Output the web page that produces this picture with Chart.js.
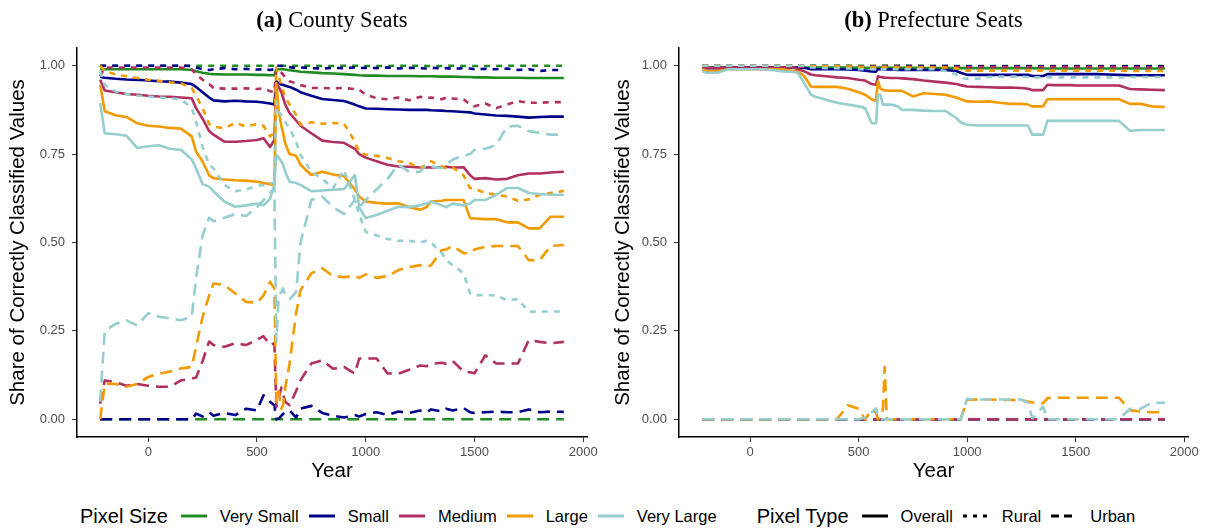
<!DOCTYPE html>
<html>
<head>
<meta charset="utf-8">
<script src="https://cdn.jsdelivr.net/npm/chart.js@4.4.1/dist/chart.umd.min.js"></script>
<style>
  body { margin: 0; background: #fff; width: 1210px; height: 532px; position: relative; overflow: hidden;
         font-family: "Liberation Sans", Arial, sans-serif; }
  canvas { position: absolute; top: 0; }
  .panel-title { position: absolute; top: 9px; line-height: 22px; font-size: 22.5px; color: #000; text-align: center;
                 font-family: "Liberation Serif", "Times New Roman", serif; white-space: nowrap; }
  #legend { position: absolute; left: 80px; top: 503px; width: 1130px; height: 26px; display: flex;
            justify-content: flex-start; align-items: center; color: #000; }
  .lg-title { font-size: 20px; margin-right: 13px; }
  .lg-item { display: flex; align-items: center; margin-right: 10px; font-size: 16.5px; }
  .lg-item svg { margin-right: 13px; }
  .lg-gap { width: 30px; }
</style>
</head>
<body>
<canvas id="chartA" width="605" height="490" style="left:0"></canvas>
<canvas id="chartB" width="605" height="490" style="left:605px"></canvas>
<div class="panel-title" style="left:77px;width:510px"><b>(a)</b> County Seats</div>
<div class="panel-title" style="left:679px;width:509px"><b>(b)</b> Prefecture Seats</div>
<div id="legend"></div>

<script>
// shared year grid (221 BC .. 1911)
const years = [-221, -200, -150, -100, -50, 0, 50, 100, 150, 200,
  220, 250, 280, 300, 350, 400, 450, 500, 530, 560,
  580, 589, 600, 612, 620, 630, 650, 680, 700, 750,
  800, 850, 900, 950, 970, 1000, 1050, 1100, 1150, 1200,
  1250, 1280, 1300, 1350, 1370, 1400, 1450, 1480, 1500, 1550,
  1600, 1650, 1700, 1750, 1800, 1850, 1911];

const sizeNames = ['Very Small', 'Small', 'Medium', 'Large', 'Very Large'];
const typeNames = ['Overall', 'Rural', 'Urban'];
const sizeColors = ['#228B22', '#00008B', '#B03060', '#F29A00', '#96CDCD'];
const typeDash = [[], [6, 6], [12, 7]];
const xTicks = [0, 500, 1000, 1500, 2000];
const yTicks = [0, 0.25, 0.5, 0.75, 1];

// ---- (a) County Seats ----
const aVerySmallOverall = [.99,.99,.99,.99,.99,.99,.99,.99,.99,.988,
  .984,.98,.977,.976,.975,.975,.975,.974,.974,.973,
  .973,.99,.99,.99,.99,.989,.987,.985,.983,.981,
  .979,.978,.976,.974,.973,.972,.972,.971,.971,.971,
  .970,.970,.970,.969,.969,.969,.968,.968,.967,.967,
  .966,.966,.966,.965,.965,.965,.965];
const aVerySmallRural = [1,1,1,1,1,1,1,1,1,1,
  1,1,1,1,1,1,1,1,1,1,
  1,1,1,1,1,1,1,1,1,1,
  .999,.999,1,1,1,.999,.999,.999,1,1,
  1,.999,.999,.999,1,1,.999,.999,.999,.999,
  .999,1,1,1,1,1,1];
const aVerySmallUrban = [0,0,0,0,0,0,0,0,0,0,
  0,0,0,0,0,0,0,0,0,0,
  0,0,0,0,0,0,0,0,0,0,
  0,0,0,0,0,0,0,0,0,0,
  0,0,0,0,0,0,0,0,0,0,
  0,0,0,0,0,0,0];
const aSmallOverall = [.968,.966,.963,.961,.96,.958,.956,.955,.952,.948,
  .94,.925,.91,.902,.899,.901,.899,.898,.896,.893,
  .89,.956,.95,.947,.946,.943,.94,.932,.925,.915,
  .906,.903,.9,.89,.885,.879,.878,.877,.876,.875,
  .875,.875,.874,.873,.872,.871,.869,.868,.865,.862,
  .859,.858,.856,.853,.855,.856,.856];
const aSmallRural = [1,1,1,1,1,1,1,1,1,.999,
  .995,.99,.988,.99,.993,.99,.991,.989,.99,.988,
  .99,1,1,.999,.999,.998,.996,.993,.995,.993,
  .992,.994,.993,.995,.993,.994,.993,.995,.992,.994,
  .993,.992,.994,.992,.993,.991,.993,.992,.99,.991,
  .99,.992,.988,.99,.985,.988,.988];
const aSmallUrban = [0,0,0,0,0,0,0,0,0,0,
  .016,.008,.02,.01,.018,.012,.03,.025,.068,.05,
  .04,0,.002,.01,.015,.02,.025,.005,.03,.038,
  .018,.01,.005,.012,.008,.015,.02,.012,.022,.018,
  .025,.02,.028,.022,.03,.025,.032,.02,.018,.02,
  .022,.02,.02,.028,.02,.022,.021];
const aMediumOverall = [.96,.93,.925,.92,.918,.915,.913,.912,.91,.908,
  .88,.85,.815,.805,.785,.785,.787,.79,.795,.77,
  .79,.951,.94,.925,.91,.89,.866,.845,.83,.809,
  .788,.784,.782,.765,.75,.74,.73,.72,.715,.714,
  .712,.713,.712,.713,.714,.712,.713,.69,.68,.682,
  .678,.68,.69,.695,.695,.698,.70];
const aMediumRural = [.97,.995,.995,.995,.995,.995,.995,.995,.995,.99,
  .975,.96,.948,.937,.935,.935,.936,.934,.936,.928,
  .925,.99,.985,.98,.975,.968,.956,.95,.945,.937,
  .937,.936,.937,.934,.932,.918,.908,.905,.91,.902,
  .912,.908,.91,.905,.91,.907,.905,.89,.885,.893,
  .88,.89,.90,.895,.895,.897,.897];
const aMediumUrban = [.044,.11,.105,.095,.10,.095,.092,.092,.11,.115,
  .118,.165,.22,.21,.205,.215,.21,.225,.235,.21,
  .215,.035,.06,.09,.07,.05,.04,.08,.11,.158,
  .167,.143,.148,.129,.172,.172,.172,.13,.129,.14,
  .152,.15,.157,.16,.157,.165,.135,.133,.13,.181,
  .158,.158,.158,.224,.219,.215,.219];
const aLargeOverall = [.946,.871,.86,.855,.837,.83,.828,.824,.822,.80,
  .757,.729,.69,.682,.678,.676,.675,.672,.668,.665,
  .663,.951,.87,.83,.81,.78,.75,.745,.72,.691,
  .70,.692,.688,.65,.63,.616,.612,.61,.611,.60,
  .593,.60,.616,.618,.62,.62,.62,.569,.568,.566,
  .566,.557,.557,.54,.54,.573,.573];
const aLargeRural = [1,.985,.975,.97,.965,.96,.957,.953,.95,.937,
  .915,.88,.835,.828,.823,.838,.828,.835,.83,.80,
  .81,.995,.97,.945,.93,.91,.89,.861,.833,.84,
  .836,.838,.836,.786,.753,.749,.745,.739,.73,.725,
  .71,.72,.73,.715,.71,.712,.69,.654,.652,.64,
  .635,.63,.618,.622,.635,.64,.646];
const aLargeUrban = [0,.101,.10,.092,.10,.12,.129,.135,.144,.148,
  .205,.29,.35,.384,.38,.356,.332,.33,.35,.389,
  .37,.05,.08,.03,.04,.09,.158,.30,.365,.413,
  .427,.405,.402,.405,.40,.41,.40,.405,.422,.43,
  .436,.432,.435,.479,.48,.49,.47,.469,.48,.488,
  .49,.49,.49,.45,.45,.49,.493];
const aVeryLargeOverall = [.894,.809,.806,.802,.767,.772,.775,.765,.762,.735,
  .71,.665,.658,.645,.616,.601,.605,.61,.605,.623,
  .663,.748,.74,.73,.72,.70,.672,.668,.663,.645,
  .647,.649,.651,.691,.60,.569,.578,.59,.601,.60,
  .605,.61,.616,.605,.60,.61,.605,.61,.62,.62,
  .635,.654,.654,.64,.637,.635,.635];
const aVeryLargeRural = [.984,.946,.927,.92,.915,.913,.91,.908,.905,.88,
  .842,.77,.72,.71,.663,.645,.65,.66,.663,.666,
  .67,.90,.87,.86,.85,.84,.823,.785,.748,.70,
  .68,.654,.705,.62,.58,.53,.52,.51,.505,.505,
  .50,.505,.50,.47,.45,.436,.413,.356,.35,.352,
  .35,.337,.34,.304,.305,.305,.305];
const aVeryLargeUrban = [.05,.25,.27,.28,.265,.30,.29,.285,.28,.29,
  .40,.52,.57,.56,.57,.58,.575,.60,.62,.64,
  .655,.22,.35,.36,.37,.35,.34,.36,.50,.62,
  .63,.60,.58,.62,.60,.62,.65,.68,.72,.70,
  .70,.72,.715,.71,.72,.735,.745,.75,.762,.765,
  .776,.828,.83,.815,.81,.805,.805];

// ---- (b) Prefecture Seats ----
const bVerySmallOverall = [.995,.995,.995,.995,.995,.995,.995,.995,.995,.995,
  .995,.995,.995,.995,.995,.995,.995,.994,.994,.993,
  .993,.995,.995,.995,.995,.995,.994,.994,.994,.994,
  .993,.993,.993,.993,.993,.993,.993,.993,.993,.993,
  .993,.993,.993,.992,.992,.992,.992,.992,.992,.992,
  .992,.992,.992,.992,.992,.992,.992];
const bVerySmallRural = [1,1,1,1,1,1,1,1,1,1,
  1,1,1,1,1,1,1,1,1,1,
  1,1,1,1,1,1,1,1,1,1,
  .999,.999,.999,.999,.999,.999,.999,.999,.999,.999,
  .999,.999,.999,.999,.999,.999,.999,.999,.999,.999,
  .999,.999,.999,.999,.999,.999,.999];
const bVerySmallUrban = [0,0,0,0,0,0,0,0,0,0,
  0,0,0,0,0,0,0,0,0,0,
  0,0,0,0,0,0,0,0,0,0,
  0,0,0,0,0,0,0,0,0,0,
  0,0,0,0,0,0,0,0,0,0,
  0,0,0,0,0,0,0];
const bSmallOverall = [.995,.993,.993,.995,.995,.995,.995,.995,.995,.995,
  .995,.994,.99,.99,.99,.99,.989,.988,.986,.984,
  .983,.99,.99,.99,.989,.989,.989,.988,.988,.988,
  .988,.988,.988,.985,.98,.974,.974,.974,.974,.974,
  .974,.974,.971,.971,.976,.976,.976,.976,.976,.976,
  .976,.975,.974,.973,.973,.973,.973];
const bSmallRural = [1,1,1,1,1,1,1,1,1,1,
  1,1,.999,.999,.999,.999,.999,.998,.998,.998,
  .998,1,1,.999,.999,.999,.999,.999,.999,.999,
  .999,.999,.999,.998,.998,.998,.998,.998,.998,.998,
  .998,.998,.998,.998,.998,.998,.998,.998,.998,.998,
  .998,.998,.998,.998,.998,.998,.998];
const bSmallUrban = [0,0,0,0,0,0,0,0,0,0,
  0,0,0,0,0,0,0,0,0,0,
  0,0,0,0,0,0,0,0,0,0,
  0,0,0,0,0,0,0,0,0,0,
  0,0,0,0,0,0,0,0,0,0,
  0,0,0,0,0,0,0];
const bMediumOverall = [.995,.993,.993,.995,.995,.995,.995,.995,.995,.995,
  .99,.984,.975,.973,.97,.967,.965,.96,.958,.948,
  .946,.97,.968,.967,.966,.966,.965,.965,.964,.962,
  .958,.955,.952,.948,.945,.941,.94,.939,.938,.938,
  .937,.935,.931,.931,.946,.945,.945,.945,.944,.944,
  .944,.944,.944,.934,.933,.932,.931];
const bMediumRural = [.997,.997,.997,.997,.997,.997,.997,.997,.997,.997,
  .997,.997,.997,.997,.997,.997,.997,.997,.997,.997,
  .997,.997,.997,.997,.997,.997,.997,.997,.997,.997,
  .996,.996,.996,.996,.996,.996,.996,.996,.996,.996,
  .996,.996,.996,.996,.996,.996,.996,.996,.996,.996,
  .996,.996,.996,.995,.995,.995,.995];
const bMediumUrban = [0,0,0,0,0,0,0,0,0,0,
  0,0,0,0,0,0,0,0,0,0,
  0,0,0,0,0,0,0,0,0,0,
  0,0,0,0,0,0,0,0,0,0,
  0,0,0,0,0,0,0,0,0,0,
  0,0,0,0,0,0,0];
const bLargeOverall = [.99,.985,.985,.99,.99,.99,.99,.99,.99,.985,
  .984,.97,.941,.94,.94,.94,.935,.925,.918,.905,
  .90,.956,.935,.932,.93,.93,.929,.93,.929,.913,
  .922,.92,.918,.91,.905,.899,.898,.899,.895,.892,
  .892,.89,.885,.885,.905,.905,.905,.905,.905,.905,
  .905,.905,.905,.892,.892,.885,.883];
const bLargeRural = [1,1,1,1,1,1,1,1,1,1,
  1,1,.998,.998,.998,.998,.998,.997,.997,.996,
  .996,1,.998,.997,.997,.996,.996,.996,.995,.995,
  .995,.995,.995,.993,.99,.986,.986,.986,.986,.986,
  .986,.986,.986,.986,.986,.986,.986,.986,.986,.986,
  .986,.986,.986,.985,.985,.985,.985];
const bLargeUrban = [0,0,0,0,0,0,0,0,0,0,
  0,0,0,0,0,0,.04,.03,0,.026,
  .02,0,.005,.03,.148,0,0,0,0,0,
  0,0,0,0,0,.055,.056,.056,.055,.055,
  .054,.05,.048,.045,.06,.061,.061,.061,.061,.061,
  .061,.061,.061,.026,.022,.02,.02];
const bVeryLargeOverall = [.984,.98,.98,.99,.99,.99,.99,.988,.984,.982,
  .98,.95,.918,.912,.904,.895,.89,.885,.88,.837,
  .837,.918,.918,.89,.89,.89,.89,.885,.875,.875,
  .873,.872,.872,.852,.84,.833,.831,.831,.831,.831,
  .831,.831,.805,.805,.844,.844,.844,.844,.844,.844,
  .844,.844,.844,.816,.818,.818,.818];
const bVeryLargeRural = [1,1,1,1,1,1,1,1,1,1,
  1,1,.995,.995,.993,.993,.992,.99,.99,.99,
  .99,.995,.99,.99,.99,.99,.99,.99,.99,.99,
  .99,.99,.985,.975,.965,.963,.963,.968,.969,.969,
  .969,.968,.967,.967,.967,.967,.967,.967,.967,.967,
  .967,.967,.967,.968,.968,.968,.968];
const bVeryLargeUrban = [0,0,0,0,0,0,0,0,0,0,
  0,0,0,0,0,0,0,0,.005,.02,
  .031,.01,0,0,0,0,0,0,0,0,
  0,0,0,0,0,.058,.056,.056,.056,.056,
  .056,.047,.003,.036,0,0,0,0,0,0,
  0,0,0,.03,.03,.047,.047];

const panelA = [
  [aVerySmallOverall, aVerySmallRural, aVerySmallUrban],
  [aSmallOverall, aSmallRural, aSmallUrban],
  [aMediumOverall, aMediumRural, aMediumUrban],
  [aLargeOverall, aLargeRural, aLargeUrban],
  [aVeryLargeOverall, aVeryLargeRural, aVeryLargeUrban]
];
const panelB = [
  [bVerySmallOverall, bVerySmallRural, bVerySmallUrban],
  [bSmallOverall, bSmallRural, bSmallUrban],
  [bMediumOverall, bMediumRural, bMediumUrban],
  [bLargeOverall, bLargeRural, bLargeUrban],
  [bVeryLargeOverall, bVeryLargeRural, bVeryLargeUrban]
];

Chart.defaults.font.family = '"Liberation Sans", Arial, sans-serif';

function buildDatasets(panel) {
  const datasets = [];
  panel.forEach((sizeSeries, si) => {
    sizeSeries.forEach((values, ti) => {
      if (values.length !== years.length) console.warn('length mismatch', sizeNames[si], typeNames[ti]);
      const k = si * 3 + ti;
      datasets.push({
        label: sizeNames[si] + ' / ' + typeNames[ti],
        data: years.map((yr, i) => ({ x: yr, y: values[i] })),
        borderColor: sizeColors[si],
        borderWidth: 2.6,
        borderDash: typeDash[ti],
        borderCapStyle: 'butt',
        borderJoinStyle: 'round',
        pointRadius: 0,
        fill: false,
        tension: 0,
        order: 15 - k // later groups on top, like ggplot
      });
    });
  });
  return datasets;
}

function makePanel(canvasId, panel, axisWidth, rightPad) {
  const ctx = document.getElementById(canvasId).getContext('2d');
  return new Chart(ctx, {
    type: 'line',
    data: { datasets: buildDatasets(panel) },
    options: {
      responsive: false,
      animation: false,
      devicePixelRatio: 1,
      layout: { padding: { left: 0, right: rightPad, top: 48, bottom: 3 } },
      plugins: { legend: { display: false }, tooltip: { enabled: false }, title: { display: false } },
      scales: {
        x: {
          type: 'linear',
          min: -327.6,
          max: 2017.6,
          afterBuildTicks: s => { s.ticks = xTicks.map(v => ({ value: v })); },
          afterFit: s => { s.height = 50; },
          ticks: { color: '#4D4D4D', font: { size: 13 }, padding: 3, maxRotation: 0, autoSkip: false,
                   callback: v => String(v) },
          grid: { display: true, drawOnChartArea: false, drawTicks: true, tickLength: 5, color: '#333333' },
          border: { display: true, color: '#000000', width: 1.5 },
          title: { display: true, text: 'Year', color: '#000', font: { size: 20.5 }, padding: { top: 0, bottom: 3 } }
        },
        y: {
          min: -0.05,
          max: 1.05,
          afterBuildTicks: s => { s.ticks = yTicks.map(v => ({ value: v })); },
          afterFit: s => { s.width = axisWidth; },
          ticks: { color: '#4D4D4D', font: { size: 13 }, padding: 7, callback: v => v.toFixed(2) },
          grid: { display: true, drawOnChartArea: false, drawTicks: true, tickLength: 5, color: '#333333' },
          border: { display: true, color: '#000000', width: 1.5 },
          title: { display: true, text: 'Share of Correctly Classified Values', color: '#000', font: { size: 20.5 },
                   padding: { top: 6, bottom: 4 } }
        }
      }
    }
  });
}

makePanel('chartA', panelA, 77, 18);
makePanel('chartB', panelB, 74, 22);

// shared legend below both panels
function keySvg(color, dash) {
  const d = dash.length ? ' stroke-dasharray="' + dash.join(' ') + '"' : '';
  return '<svg width="26" height="8"><line x1="0" y1="4" x2="26" y2="4" stroke="' + color +
    '" stroke-width="3"' + d + '/></svg>';
}
const legend = document.getElementById('legend');
let html = '<span class="lg-title">Pixel Size</span>';
sizeNames.forEach((n, i) => {
  html += '<span class="lg-item">' + keySvg(sizeColors[i], []) + n + '</span>';
});
html += '<span class="lg-gap"></span><span class="lg-title">Pixel Type</span>';
typeNames.forEach((n, i) => {
  html += '<span class="lg-item">' + keySvg('#000', i === 1 ? [4, 6] : (i === 2 ? [8, 5] : [])) + n + '</span>';
});
legend.innerHTML = html;
</script>
</body>
</html>
